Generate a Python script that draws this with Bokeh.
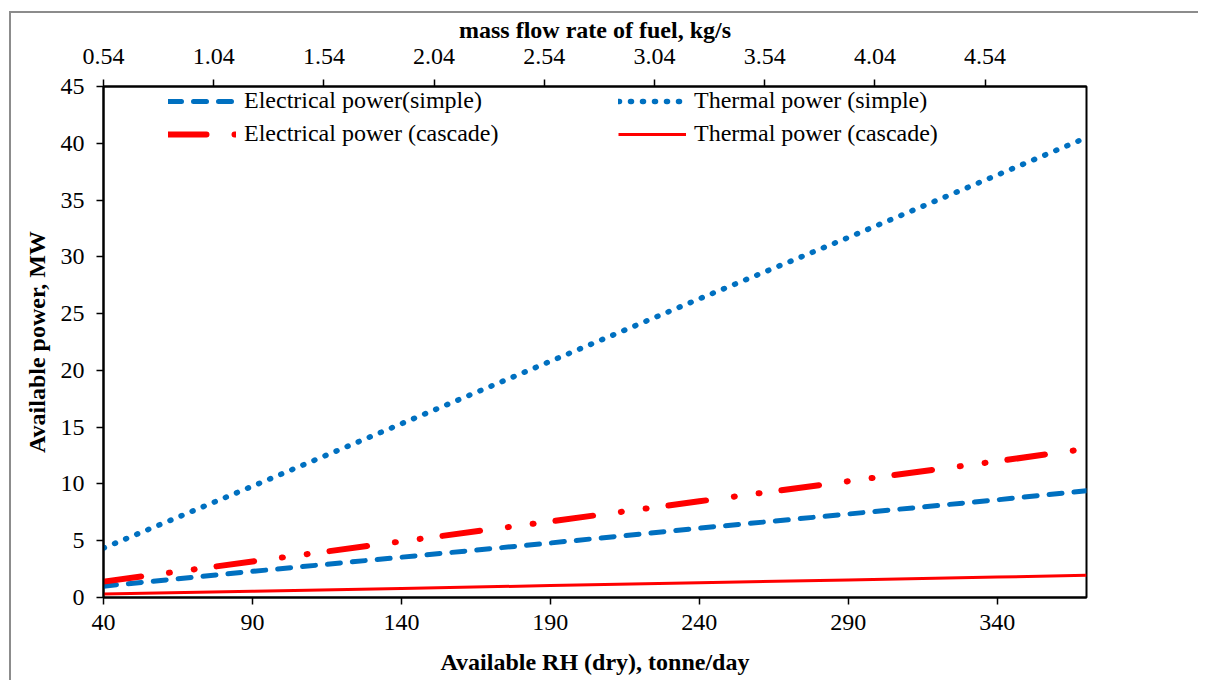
from bokeh.plotting import figure
from bokeh.models import (Range1d, LinearAxis, FixedTicker, PrintfTickFormatter, Legend,
                          LegendItem, InlineStyleSheet)
from bokeh.embed import file_html
from bokeh.resources import INLINE

# ---- data ----
rh_dry = [40, 90, 140, 190, 240, 290, 340, 370]          # tonne/day
elec_simple = [1.0, 2.3, 3.55, 4.8, 6.1, 7.35, 8.6, 9.4]
therm_simple = [4.35, 9.8, 15.3, 20.8, 26.3, 31.7, 37.2, 40.5]
elec_cascade = [1.4, 3.17, 4.94, 6.7, 8.47, 10.24, 12.0, 13.1]
therm_cascade = [0.3, 0.55, 0.8, 1.05, 1.3, 1.55, 1.8, 1.95]

bottom_ticks = [40, 90, 140, 190, 240, 290, 340]
top_ticks = [0.54, 1.04, 1.54, 2.04, 2.54, 3.04, 3.54, 4.04, 4.54]
y_ticks = [0, 5, 10, 15, 20, 25, 30, 35, 40, 45]

FONT = "Liberation Serif"
FS = "24px"
BLUE = "#0070C0"
RED = "#FF0000"

p = figure(width=1198, height=680, output_backend="svg", toolbar_location=None,
           x_range=Range1d(40, 370), y_range=Range1d(0, 45),
           x_axis_location=None, y_axis_location=None,
           min_border_left=103, min_border_right=112, min_border_top=86, min_border_bottom=83)
p.extra_x_ranges = {"top": Range1d(0.54, 5.0)}

bottom_axis = LinearAxis(ticker=FixedTicker(ticks=bottom_ticks),
                         axis_label="Available RH (dry), tonne/day")
left_axis = LinearAxis(ticker=FixedTicker(ticks=y_ticks), axis_label="Available power, MW")
top_axis = LinearAxis(x_range_name="top", ticker=FixedTicker(ticks=top_ticks),
                      formatter=PrintfTickFormatter(format="%.2f"),
                      axis_label="mass flow rate of fuel, kg/s")
p.add_layout(bottom_axis, "below")
p.add_layout(left_axis, "left")
p.add_layout(top_axis, "above")

for ax in (bottom_axis, left_axis, top_axis):
    ax.axis_line_color = "black"
    ax.axis_line_width = 2
    ax.major_tick_line_color = "black"
    ax.major_tick_line_width = 1.5
    ax.major_tick_out = 7
    ax.major_tick_in = 0
    ax.minor_tick_out = 0
    ax.minor_tick_in = 0
    ax.major_label_text_font = FONT
    ax.major_label_text_font_size = FS
    ax.major_label_text_color = "black"
    ax.major_label_standoff = 10
    ax.axis_label_text_font = FONT
    ax.axis_label_text_font_size = FS
    ax.axis_label_text_font_style = "bold"
    ax.axis_label_text_color = "black"
    ax.axis_label_standoff = 16

left_axis.major_label_standoff = 12
left_axis.axis_label_standoff = 8
top_axis.major_label_standoff = 16
top_axis.axis_label_standoff = 3

p.grid.grid_line_color = None
p.outline_line_color = "black"
p.outline_line_width = 2
p.outline_line_alpha = 1
p.background_fill_color = "white"
p.border_fill_color = None

# outer chart-area border (left and top edges), drawn as full-size CSS gradients on the plot host
p.stylesheets = [InlineStyleSheet(css=(
    ":host { background-color: white;"
    " background-image:"
    " linear-gradient(to right, transparent 9px, #8c8c8c 9px, #8c8c8c 11px, transparent 11px),"
    " linear-gradient(to bottom, transparent 11px, #8c8c8c 11px, #8c8c8c 13px, transparent 13px);"
    " background-size: 100% 100%, 100% 100%;"
    " background-position: 0px 11px, 9px 0px;"
    " background-repeat: no-repeat, no-repeat; }"
))]

r1 = p.line(rh_dry, elec_simple, line_color=BLUE, line_width=5, line_dash="13 12", line_cap="round")
r2 = p.line(rh_dry, therm_simple, line_color=BLUE, line_width=5.5, line_dash="1 11", line_cap="round")
r3 = p.line(rh_dry, elec_cascade, line_color=RED, line_width=6, line_dash="38 28 1 24 1 22", line_cap="round")
r4 = p.line(rh_dry, therm_cascade, line_color=RED, line_width=3)

def make_legend(items, loc):
    lg = Legend(items=items, location=loc)
    lg.border_line_color = None
    lg.background_fill_alpha = 0
    lg.padding = 0
    lg.margin = 0
    lg.spacing = 6
    lg.glyph_width = 68
    lg.glyph_height = 20
    lg.label_height = 24
    lg.label_standoff = 8
    lg.label_text_font = FONT
    lg.label_text_font_size = FS
    lg.label_text_color = "black"
    return lg

leg1 = make_legend([LegendItem(label="Electrical power(simple)", renderers=[r1]),
                    LegendItem(label="Electrical power (cascade)", renderers=[r3])], (65, 450))
leg2 = make_legend([LegendItem(label="Thermal power (simple)", renderers=[r2]),
                    LegendItem(label="Thermal power (cascade)", renderers=[r4])], (515, 450))
p.add_layout(leg1)
p.add_layout(leg2)

open("out.html", "w").write(file_html(p, INLINE))
